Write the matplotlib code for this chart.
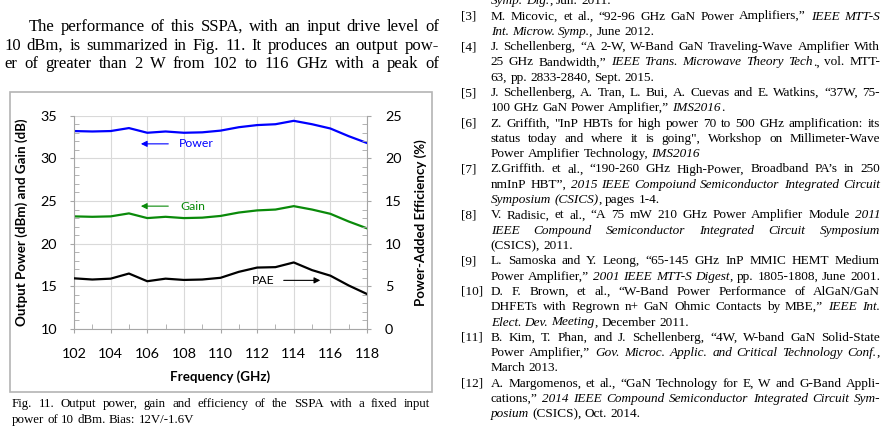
import matplotlib
matplotlib.use("Agg")
import matplotlib.pyplot as plt
from matplotlib.patches import Rectangle
from matplotlib.ticker import MultipleLocator

W, H = 896, 447

freq = [102, 103, 104, 105, 106, 107, 108, 109, 110, 111, 112, 113, 114, 115, 116, 117, 118]
power = [33.2, 33.15, 33.2, 33.55, 33.0, 33.15, 33.0, 33.05, 33.25, 33.65, 33.9, 34.0, 34.4, 34.0, 33.5, 32.6, 31.8]
gain = [23.2, 23.15, 23.2, 23.55, 23.0, 23.15, 23.0, 23.05, 23.25, 23.65, 23.9, 24.0, 24.4, 24.0, 23.5, 22.6, 21.8]
pae = [5.94, 5.8, 5.9, 6.5, 5.6, 5.9, 5.75, 5.8, 6.0, 6.7, 7.2, 7.25, 7.8, 6.9, 6.25, 5.1, 4.1]

body_lines = [
    ("The performance of this SSPA, with an input drive level of", True),
    ("10 dBm, is summarized in Fig. 11. It produces an output pow-", True),
    ("er of greater than 2 W from 102 to 116 GHz with a peak of", True),
]

caption_lines = [
    ("Fig. 11.  Output power, gain and efficiency of the SSPA with a fixed input", True),
    ("power of 10 dBm. Bias: 12V/-1.6V", False),
]

# (label, text, justified) ; *...* marks italic
ref_lines = [
    ("", "*Symp. Dig.*, Jun. 2011.", False),
    ("[3]", "M. Micovic, et al., “92-96 GHz GaN Power Amplifiers,” *IEEE MTT-S*", True),
    ("", "*Int. Microw. Symp.,* June 2012.", False),
    ("[4]", "J. Schellenberg, “A 2-W, W-Band GaN Traveling-Wave Amplifier With", True),
    ("", "25 GHz Bandwidth,” *IEEE Trans. Microwave Theory Tech*., vol. MTT-", True),
    ("", "63, pp. 2833-2840, Sept. 2015.", False),
    ("[5]", "J. Schellenberg, A. Tran, L. Bui, A. Cuevas and E. Watkins, “37W, 75-", True),
    ("", "100 GHz GaN Power Amplifier,” *IMS2016*.", False),
    ("[6]", "Z. Griffith, \"InP HBTs for high power 70 to 500 GHz amplification: its", True),
    ("", "status today and where it is going\", Workshop on Millimeter-Wave", True),
    ("", "Power Amplifier Technology, *IMS2016*", False),
    ("[7]", "Z.Griffith. et al., “190-260 GHz High-Power, Broadband PA’s in 250", True),
    ("", "nmInP HBT”, *2015 IEEE Compoiund Semiconductor Integrated Circuit*", True),
    ("", "*Symposium (CSICS)*, pages 1-4.", False),
    ("[8]", "V. Radisic, et al., “A 75 mW 210 GHz Power Amplifier Module *2011*", True),
    ("", "*IEEE Compound Semiconductor Integrated Circuit Symposium*", True),
    ("", "(CSICS), 2011.", False),
    ("[9]", "L. Samoska and Y. Leong, “65-145 GHz InP MMIC HEMT Medium", True),
    ("", "Power Amplifier,” *2001 IEEE MTT-S Digest*, pp. 1805-1808, June 2001.", True),
    ("[10]", "D. F. Brown, et al., “W-Band Power Performance of AlGaN/GaN", True),
    ("", "DHFETs with Regrown n+ GaN Ohmic Contacts by MBE,” *IEEE Int.*", True),
    ("", "*Elect. Dev. Meeting*, December 2011.", False),
    ("[11]", "B. Kim, T. Phan, and J. Schellenberg, “4W, W-band GaN Solid-State", True),
    ("", "Power Amplifier,” *Gov. Microc. Applic. and Critical Technology Conf.*,", True),
    ("", "March 2013.", False),
    ("[12]", "A. Margomenos, et al., “GaN Technology for E, W and G-Band Appli-", True),
    ("", "cations,” *2014 IEEE Compound Semiconductor Integrated Circuit Sym-*", True),
    ("", "*posium* (CSICS), Oct. 2014.", False),
]

fig = plt.figure(figsize=(W / 100, H / 100), dpi=100)
fig.patch.set_facecolor("white")
renderer = fig.canvas.get_renderer()
SERIF = "Liberation Serif"


def fx(x):
    return x / W


def fy(y):
    return 1 - y / H


def split_words(line):
    words = [[]]
    for k, seg in enumerate(line.split("*")):
        it = k % 2 == 1
        for j, p in enumerate(seg.split(" ")):
            if j > 0:
                words.append([])
            if p:
                words[-1].append((p, it))
    return [w for w in words if w]


def put_line(line, x0, x1, y, size, justify):
    words = split_words(line)
    placed = []
    widths = []
    for w in words:
        pieces = []
        tot = 0
        for s, it in w:
            t = fig.text(0, fy(y), s, fontsize=size, family=SERIF,
                         style="italic" if it else "normal", va="baseline")
            wd = t.get_window_extent(renderer).width
            pieces.append((t, wd))
            tot += wd
        placed.append(pieces)
        widths.append(tot)
    space = 0.25 * size * 100 / 72
    if justify and len(words) > 1:
        gap = (x1 - x0 - sum(widths)) / (len(words) - 1)
    else:
        gap = space
    x = x0
    for pieces, wd in zip(placed, widths):
        xx = x
        for t, pw in pieces:
            t.set_x(fx(xx))
            xx += pw
        x += wd + gap


# left column body text
for i, (txt, just) in enumerate(body_lines):
    x0 = 29 if i == 0 else 4
    put_line(txt, x0, 439, 31 + 18.7 * i, 12, just)

# caption
for i, (txt, just) in enumerate(caption_lines):
    put_line(txt, 11.7, 430, 406.7 + 16.7 * i, 9.3, just)

# references
for i, (lab, txt, just) in enumerate(ref_lines):
    yb = 4.2 + 15.3 * i
    if lab:
        fig.text(fx(460.7), fy(yb), lab, fontsize=9.5, family=SERIF, va="baseline")
    put_line(txt, 490.7, 880, yb, 9.5, just)

# chart frame
fig.patches.append(Rectangle((fx(10), fy(392)), fx(422), 300 / H, transform=fig.transFigure,
                             fill=False, edgecolor="#b4b4b4", linewidth=1.2))

plt.rcParams["font.family"] = ["Lato", "DejaVu Sans"]
ax = fig.add_axes([fx(74), fy(329), fx(367 - 74), (329 - 115.7) / H])
ax2 = ax.twinx()

ax.plot(freq, power, color="#0000ff", lw=1.6)
ax.plot(freq, gain, color="#0a8a0a", lw=1.6)
ax2.plot(freq, pae, color="black", lw=1.6)

ax.set_xlim(102, 118)
ax.set_ylim(10, 35)
ax2.set_ylim(0, 25)
ax.xaxis.set_major_locator(MultipleLocator(2))
ax.xaxis.set_minor_locator(MultipleLocator(1))
ax.yaxis.set_major_locator(MultipleLocator(5))
ax.yaxis.set_minor_locator(MultipleLocator(1))
ax2.yaxis.set_major_locator(MultipleLocator(5))
ax2.yaxis.set_minor_locator(MultipleLocator(1))

ax.grid(True, which="major", color="#d9d9d9", lw=0.8)
ax.set_axisbelow(True)
for a in (ax, ax2):
    a.spines["top"].set_visible(False)
    a.spines["left"].set_color("#a6a6a6")
    a.spines["right"].set_color("#a6a6a6")
    a.spines["bottom"].set_color("#a6a6a6")
ax.spines["right"].set_visible(False)
ax2.spines["left"].set_visible(False)
ax2.spines["bottom"].set_visible(False)

ax.tick_params(axis="both", which="major", direction="out", length=3, color="#a6a6a6",
               labelsize=10.4, pad=9)
ax.tick_params(axis="both", which="minor", direction="in", length=3.5, color="#a6a6a6")
ax.tick_params(axis="x", which="major", pad=11)
ax2.tick_params(axis="y", which="major", direction="out", length=3, color="#a6a6a6",
                labelsize=10.4, pad=10)
ax2.tick_params(axis="y", which="minor", direction="in", length=3.5, color="#a6a6a6")

ax.set_xlabel("Frequency (GHz)", fontsize=9.6, fontweight="bold", labelpad=7)
ax.set_ylabel("Output Power (dBm) and Gain (dB)", fontsize=9.6, fontweight="bold", labelpad=9)
ax2.set_ylabel("Power-Added Efficiency (%)", fontsize=9.6, fontweight="bold", labelpad=9)

# series annotations
ax.annotate("", xy=(105.5, 31.7), xytext=(107.3, 31.7),
            arrowprops=dict(arrowstyle="-|>", color="#0000ff", lw=0.8, mutation_scale=9))
ax.text(107.75, 31.7, "Power", color="#0000ff", fontsize=8.8, va="center")
ax.annotate("", xy=(105.5, 24.4), xytext=(107.3, 24.4),
            arrowprops=dict(arrowstyle="-|>", color="#0a8a0a", lw=0.8, mutation_scale=9))
ax.text(107.8, 24.4, "Gain", color="#0a8a0a", fontsize=8.8, va="center")
ax.text(111.7, 15.7, "PAE", color="black", fontsize=8.8, va="center")
ax.annotate("", xy=(115.6, 15.7), xytext=(113.3, 15.7),
            arrowprops=dict(arrowstyle="-|>", color="black", lw=0.8, mutation_scale=9))

fig.savefig("out.png", dpi=100)
